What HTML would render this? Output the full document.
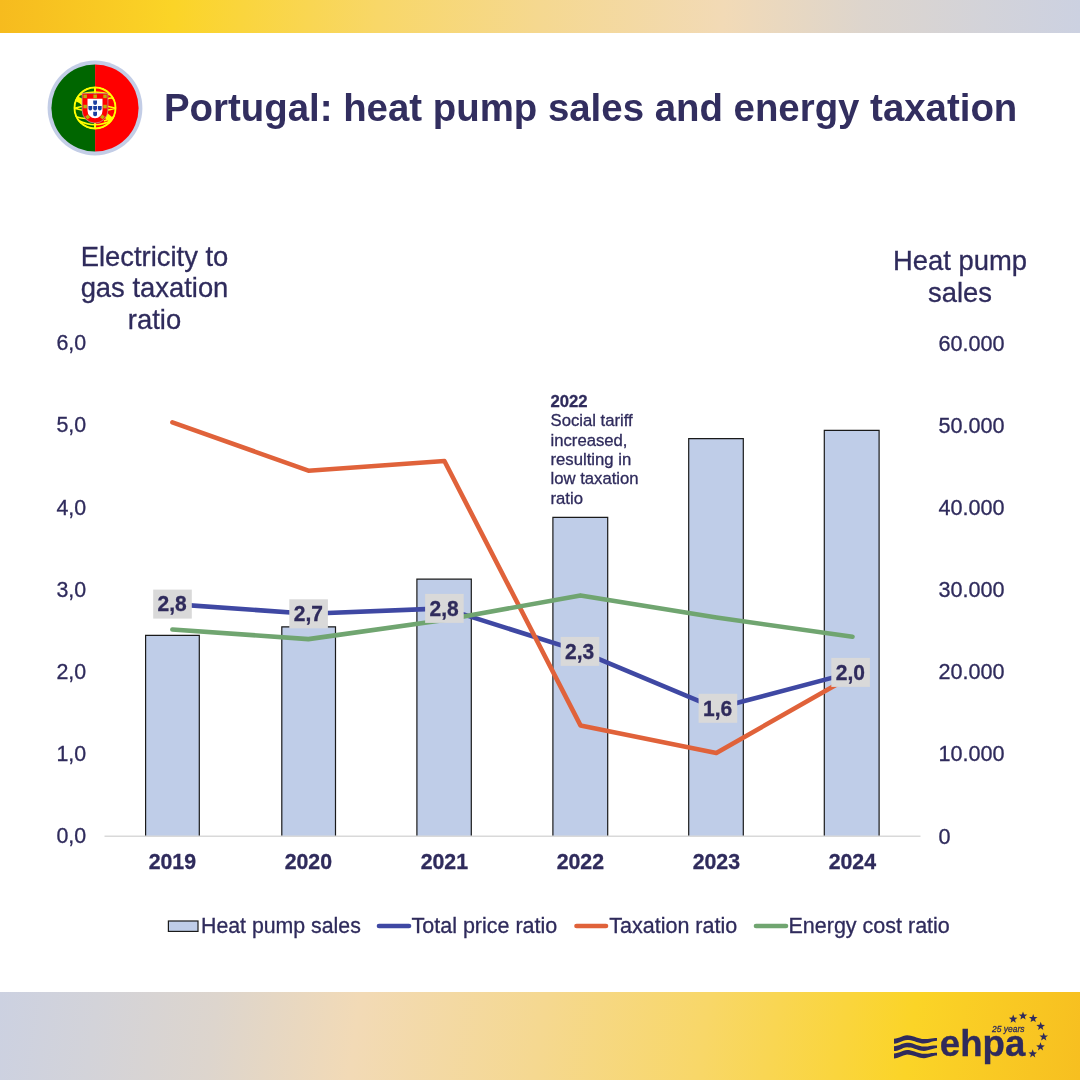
<!DOCTYPE html>
<html lang="en"><head><meta charset="utf-8"><title>Portugal: heat pump sales and energy taxation</title>
<style>
html,body{margin:0;padding:0;background:#fff;}
body{width:1080px;height:1080px;position:relative;overflow:hidden;font-family:"Liberation Sans",Arial,Helvetica,sans-serif;color:#2f2b5c;}
.top{position:absolute;left:0;top:0;width:1080px;height:33px;background:linear-gradient(92deg,#f6bb1e 0%,#fbd427 16%,#f8d768 35%,#f5d890 50%,#f2dab6 67%,#ddd5cd 80%,#d3d3d9 91%,#ccd1e1 100%);}
.bot{position:absolute;left:0;top:992px;width:1080px;height:88px;background:linear-gradient(278deg,#f7bf20 0%,#fbd427 16%,#f8d768 35%,#f5d890 50%,#f2dab6 67%,#ddd5cd 80%,#d3d3d9 91%,#ccd1e1 100%);}
h1{position:absolute;left:164px;top:86px;margin:0;font-size:38.4px;line-height:44px;font-weight:bold;white-space:nowrap;color:#322e5f;}
svg text{font-family:"Liberation Sans",Arial,Helvetica,sans-serif;fill:#2f2b5c;stroke:#2f2b5c;stroke-width:0.3px;}
svg text.b{font-weight:bold;}
</style></head><body>
<div class="top"></div>
<div class="bot"></div>
<h1>Portugal: heat pump sales and energy taxation</h1>
<svg width="1080" height="1080" viewBox="0 0 1080 1080" style="position:absolute;left:0;top:0">
<path d="M145.6 836.3 V635.3 H199.3 V836.3" fill="#bfcde8" stroke="#1a1a1a" stroke-width="1.2"/>
<path d="M281.8 836.3 V626.8 H335.5 V836.3" fill="#bfcde8" stroke="#1a1a1a" stroke-width="1.2"/>
<path d="M416.9 836.3 V579.2 H471.3 V836.3" fill="#bfcde8" stroke="#1a1a1a" stroke-width="1.2"/>
<path d="M552.9 836.3 V517.4 H607.7 V836.3" fill="#bfcde8" stroke="#1a1a1a" stroke-width="1.2"/>
<path d="M688.7 836.3 V438.6 H743.3 V836.3" fill="#bfcde8" stroke="#1a1a1a" stroke-width="1.2"/>
<path d="M824.3 836.3 V430.3 H879.1 V836.3" fill="#bfcde8" stroke="#1a1a1a" stroke-width="1.2"/>
<line x1="104.5" y1="836.3" x2="920.5" y2="836.3" stroke="#d9d9d9" stroke-width="1.5"/>
<polyline points="172.5,604.1 308.5,613.7 444.5,608.4 580.5,651.4 716.5,708.3 852.5,672.4" fill="none" stroke="#3f48a3" stroke-width="4.6" stroke-linecap="round" stroke-linejoin="round"/>
<polyline points="172.4,422.3 308.4,470.7 444.4,461.0 580.5,725.4 716.3,752.9 852.5,675.5" fill="none" stroke="#e0623a" stroke-width="4.6" stroke-linecap="round" stroke-linejoin="round"/>
<polyline points="172.4,629.5 308.4,639.1 444.4,620.0 580.5,595.4 716.5,617.5 852.5,636.8" fill="none" stroke="#70a570" stroke-width="4.6" stroke-linecap="round" stroke-linejoin="round"/>
<rect x="153.2" y="589.6" width="38.6" height="29" fill="#d9d9d9"/>
<text transform="translate(172.2,611.4) scale(1,1.09)" class="b" font-size="21" text-anchor="middle">2,8</text>
<rect x="289.3" y="599.3" width="38.6" height="29" fill="#d9d9d9"/>
<text transform="translate(308.3,621.1) scale(1,1.09)" class="b" font-size="21" text-anchor="middle">2,7</text>
<rect x="425.1" y="593.9" width="38.6" height="29" fill="#d9d9d9"/>
<text transform="translate(444.1,615.7) scale(1,1.09)" class="b" font-size="21" text-anchor="middle">2,8</text>
<rect x="560.7" y="636.9" width="38.6" height="29" fill="#d9d9d9"/>
<text transform="translate(579.7,658.7) scale(1,1.09)" class="b" font-size="21" text-anchor="middle">2,3</text>
<rect x="698.6" y="693.8" width="38.6" height="29" fill="#d9d9d9"/>
<text transform="translate(717.6,715.6) scale(1,1.09)" class="b" font-size="21" text-anchor="middle">1,6</text>
<rect x="831.3" y="657.9" width="38.6" height="29" fill="#d9d9d9"/>
<text transform="translate(850.3,679.7) scale(1,1.09)" class="b" font-size="21" text-anchor="middle">2,0</text>
<text x="56.4" y="843.3" font-size="21.4">0,0</text>
<text x="56.4" y="761.1" font-size="21.4">1,0</text>
<text x="56.4" y="679.0" font-size="21.4">2,0</text>
<text x="56.4" y="596.8" font-size="21.4">3,0</text>
<text x="56.4" y="514.6" font-size="21.4">4,0</text>
<text x="56.4" y="432.4" font-size="21.4">5,0</text>
<text x="56.4" y="350.3" font-size="21.4">6,0</text>
<text x="938.4" y="843.6" font-size="21.6">0</text>
<text x="938.4" y="761.4" font-size="21.6">10.000</text>
<text x="938.4" y="679.3" font-size="21.6">20.000</text>
<text x="938.4" y="597.1" font-size="21.6">30.000</text>
<text x="938.4" y="514.9" font-size="21.6">40.000</text>
<text x="938.4" y="432.7" font-size="21.6">50.000</text>
<text x="938.4" y="350.6" font-size="21.6">60.000</text>
<text transform="translate(172.3,868.9) scale(1,1.07)" class="b" font-size="21.3" text-anchor="middle">2019</text>
<text transform="translate(308.3,868.9) scale(1,1.07)" class="b" font-size="21.3" text-anchor="middle">2020</text>
<text transform="translate(444.3,868.9) scale(1,1.07)" class="b" font-size="21.3" text-anchor="middle">2021</text>
<text transform="translate(580.3,868.9) scale(1,1.07)" class="b" font-size="21.3" text-anchor="middle">2022</text>
<text transform="translate(716.3,868.9) scale(1,1.07)" class="b" font-size="21.3" text-anchor="middle">2023</text>
<text transform="translate(852.3,868.9) scale(1,1.07)" class="b" font-size="21.3" text-anchor="middle">2024</text>
<text x="154.5" y="265.7" font-size="27.4" text-anchor="middle">Electricity to</text>
<text x="154.5" y="297.3" font-size="27.4" text-anchor="middle">gas taxation</text>
<text x="154.5" y="328.9" font-size="27.4" text-anchor="middle">ratio</text>
<text x="960" y="270.3" font-size="27.4" text-anchor="middle">Heat pump</text>
<text x="960" y="301.7" font-size="27.4" text-anchor="middle">sales</text>
<text x="550.5" y="406.7" font-size="16.7" class="b">2022</text>
<text x="550.5" y="426.1" font-size="16.7">Social tariff</text>
<text x="550.5" y="445.6" font-size="16.7">increased,</text>
<text x="550.5" y="465.0" font-size="16.7">resulting in</text>
<text x="550.5" y="484.4" font-size="16.7">low taxation</text>
<text x="550.5" y="503.9" font-size="16.7">ratio</text>
<rect x="168.4" y="921" width="29.6" height="10.4" fill="#bfcde8" stroke="#1a1a1a" stroke-width="1.2"/>
<text x="201" y="932.5" font-size="21.3">Heat pump sales</text>
<line x1="379" y1="926" x2="409" y2="926" stroke="#3f48a3" stroke-width="4.6" stroke-linecap="round"/>
<text x="411.5" y="932.5" font-size="21.5">Total price ratio</text>
<line x1="576.5" y1="926" x2="606" y2="926" stroke="#e0623a" stroke-width="4.6" stroke-linecap="round"/>
<text x="609.3" y="932.5" font-size="21.5">Taxation ratio</text>
<line x1="756" y1="926" x2="786" y2="926" stroke="#70a570" stroke-width="4.6" stroke-linecap="round"/>
<text x="788.5" y="932.5" font-size="21.5">Energy cost ratio</text>
</svg>
<svg width="110" height="110" viewBox="-55 -55 110 110" style="position:absolute;left:39.7px;top:53px">
<defs><clipPath id="fc"><circle r="43.6"/></clipPath><clipPath id="sc"><circle r="21.7"/></clipPath></defs>
<circle r="47.4" fill="#c3cde6"/>
<g clip-path="url(#fc)">
<rect x="-50" y="-50" width="50.1" height="100" fill="#006600"/>
<rect x="0.1" y="-50" width="50" height="100" fill="#ff0000"/>
</g>
<g fill="none" stroke="#ffff00" stroke-width="2" clip-path="url(#sc)">
<circle r="20.6" stroke-width="2.1"/>
<line x1="0" y1="-21" x2="0" y2="21" stroke-width="2"/>
<path d="M-20.6 0.2 Q-10 -2.6 -3 -3 M-20.6 0.2 Q-10 3 -3 3.4 M20.6 0.2 Q10 -2.6 3 -3 M20.6 0.2 Q10 3 3 3.4" stroke-width="1.7"/>
<path d="M-16 -13 Q0 -19 16 -13" stroke-width="1.5"/>
<path d="M12 -9 Q16 -10.5 19 -9.5" stroke-width="1.5"/>
<path d="M-19 8.8 Q-14 10.5 -9 10.5 M-16.5 12.5 Q0 21 16.5 12.5 M19 8.8 Q14 11.5 9 13" stroke-width="1.6"/>
<path d="M-18.5 -9 Q-14 -8 -11 -4" stroke-width="5"/>
<path d="M10.5 7 Q14 10 17 12.5" stroke-width="5.5"/>
</g>
<path d="M-12.9 -14.7 H12.9 V2.2 A12.9 12.9 0 0 1 -12.9 2.2 Z" fill="#ff0000" stroke="#b9a9a9" stroke-width="0.7"/>
<path d="M-7.5 -9.2 H7.5 V2.7 A7.5 7.5 0 0 1 -7.5 2.7 Z" fill="#ffffff"/>
<g fill="#1b3fa0">
<path d="M-1.8 -7.6 h3.8 v2.6 a1.9 1.9 0 0 1 -3.8 0z"/>
<path d="M-1.8 -2.1 h3.8 v2.6 a1.9 1.9 0 0 1 -3.8 0z"/>
<path d="M-1.8 3.8 h3.8 v2.6 a1.9 1.9 0 0 1 -3.8 0z"/>
<path d="M-6.6 -2.1 h3.8 v2.6 a1.9 1.9 0 0 1 -3.8 0z"/>
<path d="M2.9 -2.1 h3.8 v2.6 a1.9 1.9 0 0 1 -3.8 0z"/>
</g>
<g fill="#bfae0c">
<rect x="-11.6" y="-13.4" width="3.5" height="3.5"/>
<rect x="-1.6" y="-13.4" width="3.5" height="3.5"/>
<rect x="8.3" y="-13.4" width="3.5" height="3.5"/>
<rect x="-11.6" y="-3.2" width="3.5" height="3.5"/>
<rect x="8.3" y="-3.2" width="3.5" height="3.5"/>
<rect x="-9.1" y="7.3" width="3.5" height="3.5" transform="rotate(-40 -7.3 9)"/>
<rect x="5.7" y="7.3" width="3.5" height="3.5" transform="rotate(40 7.5 9)"/>
</g>
</svg>

<svg width="200" height="88" viewBox="880 992 200 88" style="position:absolute;left:880px;top:992px">
<g fill="#2f2b5c">
<polygon points="894.0,1038.8 895.9,1038.6 897.7,1038.1 899.6,1037.5 901.5,1036.7 903.3,1036.0 905.2,1035.5 907.1,1035.3 909.0,1035.4 910.8,1035.7 912.7,1036.2 914.6,1036.8 916.4,1037.5 918.3,1038.1 920.2,1038.6 922.0,1039.0 923.9,1039.1 925.8,1039.1 927.7,1039.0 929.5,1038.7 931.4,1038.4 933.3,1038.2 935.1,1038.1 937.0,1038.1 937.0,1040.7 935.1,1040.9 933.3,1041.3 931.4,1041.8 929.5,1042.4 927.7,1042.9 925.8,1043.3 923.9,1043.5 922.0,1043.4 920.2,1043.0 918.3,1042.5 916.4,1041.9 914.6,1041.3 912.7,1040.7 910.8,1040.2 909.0,1040.0 907.1,1039.9 905.2,1040.2 903.3,1040.7 901.5,1041.5 899.6,1042.3 897.7,1043.0 895.9,1043.5 894.0,1043.7"/>
<polygon points="894.0,1046.2 895.9,1046.0 897.7,1045.5 899.6,1044.9 901.5,1044.1 903.3,1043.4 905.2,1042.9 907.1,1042.7 909.0,1042.8 910.8,1043.1 912.7,1043.6 914.6,1044.2 916.4,1044.9 918.3,1045.5 920.2,1046.0 922.0,1046.4 923.9,1046.5 925.8,1046.5 927.7,1046.4 929.5,1046.1 931.4,1045.8 933.3,1045.6 935.1,1045.5 937.0,1045.5 937.0,1048.1 935.1,1048.3 933.3,1048.7 931.4,1049.2 929.5,1049.8 927.7,1050.3 925.8,1050.7 923.9,1050.9 922.0,1050.8 920.2,1050.4 918.3,1049.9 916.4,1049.3 914.6,1048.7 912.7,1048.1 910.8,1047.6 909.0,1047.4 907.1,1047.3 905.2,1047.6 903.3,1048.1 901.5,1048.9 899.6,1049.7 897.7,1050.4 895.9,1050.9 894.0,1051.1"/>
<polygon points="894.0,1053.5 895.9,1053.3 897.7,1052.8 899.6,1052.2 901.5,1051.4 903.3,1050.7 905.2,1050.2 907.1,1050.0 909.0,1050.1 910.8,1050.4 912.7,1050.9 914.6,1051.5 916.4,1052.2 918.3,1052.8 920.2,1053.3 922.0,1053.7 923.9,1053.8 925.8,1053.8 927.7,1053.7 929.5,1053.4 931.4,1053.1 933.3,1052.9 935.1,1052.8 937.0,1052.8 937.0,1055.4 935.1,1055.6 933.3,1056.0 931.4,1056.5 929.5,1057.1 927.7,1057.6 925.8,1058.0 923.9,1058.2 922.0,1058.1 920.2,1057.7 918.3,1057.2 916.4,1056.6 914.6,1056.0 912.7,1055.4 910.8,1054.9 909.0,1054.7 907.1,1054.6 905.2,1054.9 903.3,1055.4 901.5,1056.2 899.6,1057.0 897.7,1057.7 895.9,1058.2 894.0,1058.4"/>
<polygon points="1013.2,1014.6 1014.3,1017.6 1017.5,1017.7 1015.0,1019.7 1015.8,1022.7 1013.2,1021.0 1010.6,1022.7 1011.4,1019.7 1008.9,1017.7 1012.1,1017.6"/>
<polygon points="1023.0,1011.4 1024.1,1014.4 1027.3,1014.5 1024.8,1016.5 1025.6,1019.5 1023.0,1017.8 1020.4,1019.5 1021.2,1016.5 1018.7,1014.5 1021.9,1014.4"/>
<polygon points="1033.2,1014.0 1034.3,1017.0 1037.5,1017.1 1035.0,1019.1 1035.8,1022.1 1033.2,1020.4 1030.6,1022.1 1031.4,1019.1 1028.9,1017.1 1032.1,1017.0"/>
<polygon points="1040.7,1021.8 1041.8,1024.8 1045.0,1024.9 1042.5,1026.9 1043.3,1029.9 1040.7,1028.1 1038.1,1029.9 1038.9,1026.9 1036.4,1024.9 1039.6,1024.8"/>
<polygon points="1043.7,1032.4 1044.8,1035.4 1048.0,1035.5 1045.5,1037.5 1046.3,1040.5 1043.7,1038.8 1041.1,1040.5 1041.9,1037.5 1039.4,1035.5 1042.6,1035.4"/>
<polygon points="1040.5,1042.3 1041.6,1045.3 1044.8,1045.4 1042.3,1047.4 1043.1,1050.4 1040.5,1048.6 1037.9,1050.4 1038.7,1047.4 1036.2,1045.4 1039.4,1045.3"/>
<polygon points="1032.7,1049.3 1033.8,1052.3 1037.0,1052.4 1034.5,1054.4 1035.3,1057.4 1032.7,1055.6 1030.1,1057.4 1030.9,1054.4 1028.4,1052.4 1031.6,1052.3"/>
</g>
<text transform="translate(939.8,1055.6) scale(1,1.1)" font-size="34" class="b" textLength="85.5" lengthAdjust="spacingAndGlyphs">ehpa</text>
<text x="992" y="1032.3" font-size="9.5" font-style="italic" textLength="32.5" lengthAdjust="spacingAndGlyphs">25 years</text>
</svg>
</body></html>
